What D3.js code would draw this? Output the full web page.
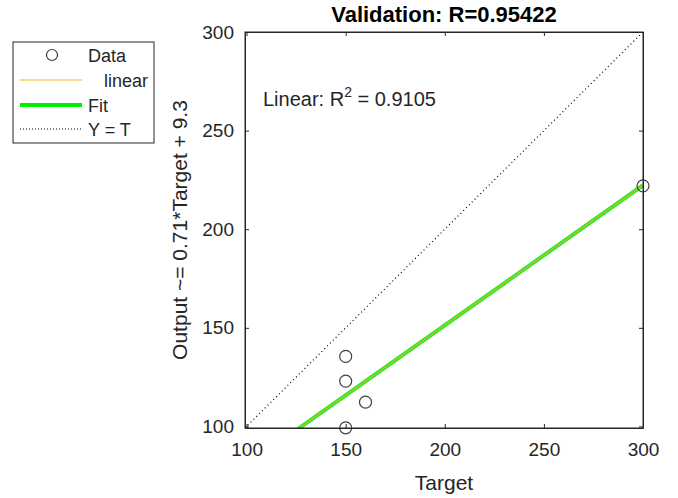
<!DOCTYPE html>
<html>
<head>
<meta charset="utf-8">
<script src="https://cdn.jsdelivr.net/npm/d3@7"></script>
<style>
body { margin: 0; background: #fff; }
text { font-family: "Liberation Sans", Arial, sans-serif; fill: #262626; }
</style>
</head>
<body>
<svg width="678" height="498"></svg>
<script>
// data
var targets = [150, 150, 160, 150, 300];
var outputs = [135.5, 123, 112.3, 99.3, 222];
var fitSlope = 0.71, fitIntercept = 9.3;
var lim = [99.2, 300];
var ticks = [100, 150, 200, 250, 300];
var legendLabels = ["Data", "linear", "Fit", "Y = T"];

var svg = d3.select("svg"),
margin = {top: 32, right: 35, bottom: 70, left: 245},
width = +svg.attr("width") - margin.left - margin.right,
height = +svg.attr("height") - margin.top - margin.bottom;

var x = d3.scaleLinear().domain(lim).range([0, width]),
y = d3.scaleLinear().domain(lim).range([height, 0]);

var g = svg.append("g")
  .attr("transform", "translate(" + margin.left + "," + margin.top + ")");

g.append("clipPath").attr("id", "clip")
  .append("rect").attr("width", width).attr("height", height);

// Y = T dotted line
g.append("line")
  .attr("x1", x(lim[0])).attr("y1", y(lim[0]))
  .attr("x2", x(lim[1])).attr("y2", y(lim[1]))
  .attr("stroke", "#000").attr("stroke-width", 1.2)
  .attr("stroke-dasharray", "1,3");

// fit lines
var fitLine = d3.line()
  .x(function(d) { return x(d); })
  .y(function(d) { return y(fitSlope * d + fitIntercept); });

g.append("path")
  .attr("clip-path", "url(#clip)")
  .attr("d", fitLine(lim))
  .attr("stroke", "#2ee82e").attr("stroke-width", 4).attr("fill", "none");
g.append("path")
  .attr("clip-path", "url(#clip)")
  .attr("d", fitLine(lim))
  .attr("stroke", "#f5b21b").attr("stroke-width", 1).attr("fill", "none");

// data points
g.selectAll(".pt")
  .data(targets)
  .enter().append("circle")
  .attr("class", "pt")
  .attr("cx", function(d) { return x(d); })
  .attr("cy", function(d, i) { return y(outputs[i]); })
  .attr("r", 6)
  .attr("fill", "none").attr("stroke", "#404040").attr("stroke-width", 1.2);

// axes (ticks inside, box)
var tl = 4;
g.append("g")
  .attr("transform", "translate(0," + height + ")")
  .call(d3.axisBottom(x).tickValues(ticks).tickSizeInner(-tl).tickSizeOuter(0).tickPadding(15))
  .call(function(a) { a.selectAll("text").style("font-size", "19px"); });
g.append("g")
  .call(d3.axisLeft(y).tickValues(ticks).tickSizeInner(-tl).tickSizeOuter(0).tickPadding(11))
  .call(function(a) { a.selectAll("text").style("font-size", "19px"); });
g.append("g")
  .call(d3.axisTop(x).tickValues(ticks).tickSizeInner(-tl).tickSizeOuter(0).tickFormat(""));
g.append("g")
  .attr("transform", "translate(" + width + ",0)")
  .call(d3.axisRight(y).tickValues(ticks).tickSizeInner(-tl).tickSizeOuter(0).tickFormat(""));
g.selectAll(".domain, .tick line").attr("stroke", "#262626");
g.append("rect").attr("width", width).attr("height", height)
  .attr("fill", "none").attr("stroke", "#262626").attr("stroke-width", 1);

// title and labels
g.append("text")
  .attr("x", width / 2).attr("y", -10)
  .attr("text-anchor", "middle")
  .style("font-size", "22px").style("font-weight", "bold").style("fill", "#000")
  .text("Validation: R=0.95422");
g.append("text")
  .attr("x", width / 2).attr("y", height + 62)
  .attr("text-anchor", "middle")
  .style("font-size", "21px")
  .text("Target");
g.append("text")
  .attr("transform", "translate(-58," + (height / 2) + ") rotate(-90)")
  .attr("text-anchor", "middle")
  .style("font-size", "21px")
  .text("Output ~= 0.71*Target + 9.3");

var r2 = g.append("text")
  .attr("x", 18).attr("y", 74)
  .style("font-size", "20px");
r2.append("tspan").text("Linear: R");
r2.append("tspan").attr("dy", -9).style("font-size", "14px").text("2");
r2.append("tspan").attr("dy", 9).text(" = 0.9105");

// legend
var lg = svg.append("g").attr("transform", "translate(13,42)");
lg.append("rect").attr("width", 141).attr("height", 101)
  .attr("fill", "#fff").attr("stroke", "#262626").attr("stroke-width", 1);
var rowY = [13, 38, 63, 87];
lg.append("circle").attr("cx", 39).attr("cy", rowY[0])
  .attr("r", 5.5).attr("fill", "none").attr("stroke", "#404040").attr("stroke-width", 1.2);
lg.append("line").attr("x1", 7).attr("x2", 69).attr("y1", rowY[1]).attr("y2", rowY[1])
  .attr("stroke", "#f5b21b").attr("stroke-width", 1);
lg.append("line").attr("x1", 7).attr("x2", 69).attr("y1", rowY[2]).attr("y2", rowY[2])
  .attr("stroke", "#00ee00").attr("stroke-width", 4);
lg.append("line").attr("x1", 7).attr("x2", 69).attr("y1", rowY[3]).attr("y2", rowY[3])
  .attr("stroke", "#000").attr("stroke-width", 1).attr("stroke-dasharray", "1,2");
var lx = [75, 91, 75, 75];
lg.selectAll(".lt")
  .data(legendLabels)
  .enter().append("text")
  .attr("class", "lt")
  .attr("x", function(d, i) { return lx[i]; })
  .attr("y", function(d, i) { return rowY[i] + 7; })
  .style("font-size", "18px")
  .text(function(d) { return d; });
</script>
</body>
</html>
